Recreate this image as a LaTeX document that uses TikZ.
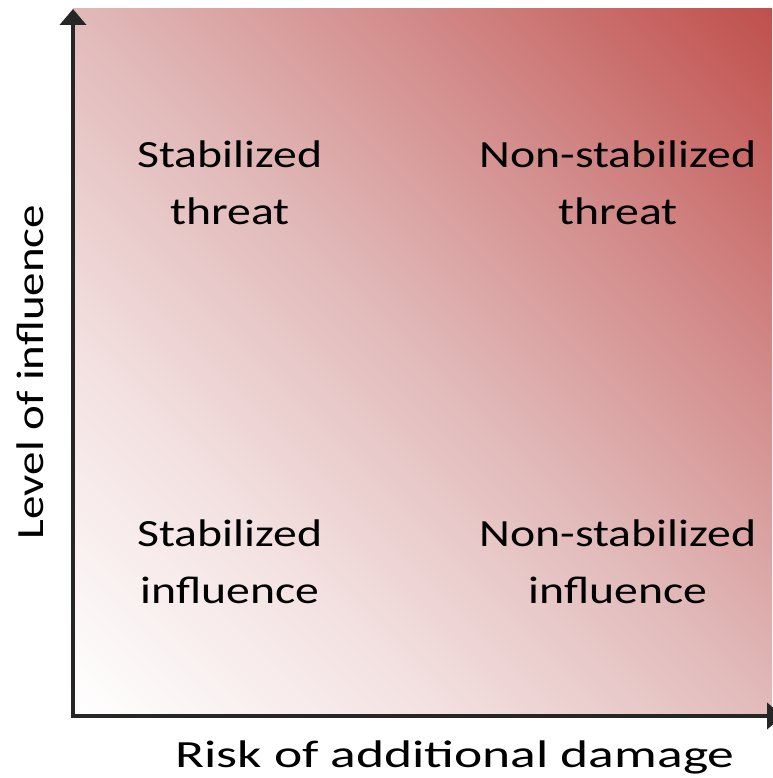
\documentclass[tikz,border=0pt]{standalone}
\usepackage{fontspec}
\setmainfont{Carlito}
\newfontfamily\lblfont[FakeStretch=1.24]{Carlito}
\newfontfamily\ylblfont[FakeStretch=1.22]{Carlito}
\newfontfamily\xlblfont[FakeStretch=1.39]{Carlito}
\usetikzlibrary{arrows.meta}
\definecolor{axisgray}{HTML}{262626}
\definecolor{gA}{RGB}{244,226,226}
\definecolor{gB}{RGB}{226,186,186}
\definecolor{gC}{RGB}{209,136,135}
\definecolor{gD}{RGB}{192,80,77}
\pgfdeclarehorizontalshading{riskshade}{100bp}{color(0bp)=(white); color(14.64bp)=(white); color(32.32bp)=(gA); color(50bp)=(gB); color(67.68bp)=(gC); color(85.36bp)=(gD); color(100bp)=(gD)}
\tikzset{
  quadtext/.style={align=center, anchor=base, inner sep=0pt, font=\lblfont\fontsize{38.5}{57}\selectfont, text=black},
  axislabel/.style={anchor=base, inner sep=0pt, text=black},
  axisline/.style={draw=axisgray, line width=4.5pt, line join=miter,
    {Triangle[width=26pt,length=16pt]}-{Triangle[width=26pt,length=16pt]}}
}
\begin{document}
\begin{tikzpicture}[x=1pt,y=-1pt]
\useasboundingbox (0,0) rectangle (772,778);
\shade[shading=riskshade, shading angle=45] (73,9) rectangle (772,716);
\coordinate (ytip) at (73,9);
\coordinate (origin) at (73,716);
\coordinate (xtip) at (783,716);
\path[axisline] (ytip) -- (origin) -- (xtip);
\node[quadtext] (st) at (230,224) {Stabilized\\threat};
\node[quadtext] (nst) at (618,224) {Non-stabilized\\threat};
\node[quadtext] (si) at (230,603) {Stabilized\\influence};
\node[quadtext] (nsi) at (618,603) {Non-stabilized\\influence};
\node[axislabel, rotate=90, font=\ylblfont\fontsize{38.5}{46}\selectfont] (ylab) at (43.5,372) {Level of influence};
\node[axislabel, font=\xlblfont\fontsize{38.5}{46}\selectfont] (xlab) at (455,767.5) {Risk of additional damage};
\end{tikzpicture}
\end{document}
